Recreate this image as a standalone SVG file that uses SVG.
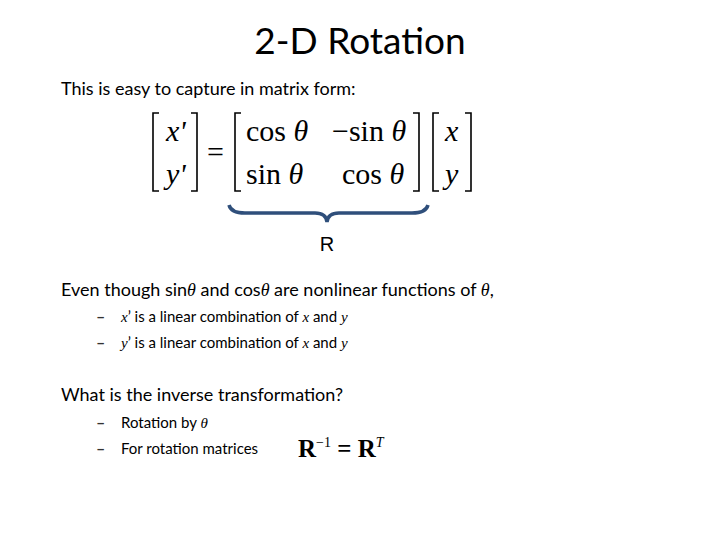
<svg xmlns="http://www.w3.org/2000/svg" width="720" height="540" viewBox="0 0 720 540">
<style>
.s{font-family:Lato,"Open Sans",sans-serif;fill:#000}
.d{font-family:Lato,"Open Sans",sans-serif;font-size:16px;font-weight:bold;fill:#333}
.m{font-family:"Liberation Serif",serif;font-size:30px;fill:#000}
.i{font-family:"Liberation Serif",serif;font-style:italic}
.b{fill:none;stroke:#000;stroke-width:1.6}
</style>
<rect width="720" height="540" fill="#fff"/>
<text class="s" x="360" y="54" font-size="37" text-anchor="middle">2-D Rotation</text>
<text class="s" x="61" y="95" font-size="18">This is easy to capture in matrix form:</text>
<g id="matrix">
<path class="b" d="M159,113 H153 V191 H159 M191,113 H197 V191 H191"/>
<text class="m i" x="166" y="141">x'</text>
<text class="m i" x="166" y="184">y'</text>
<text class="m" x="207" y="162">=</text>
<path class="b" d="M241,113 H235 V191 H241 M413,113 H419 V191 H413"/>
<text class="m" x="246" y="141">cos<tspan class="i"> θ</tspan></text>
<text class="m" x="332" y="141">−sin<tspan class="i"> θ</tspan></text>
<text class="m" x="246" y="184">sin<tspan class="i"> θ</tspan></text>
<text class="m" x="342" y="184">cos<tspan class="i"> θ</tspan></text>
<path class="b" d="M439,113 H433 V191 H439 M465,113 H471 V191 H465"/>
<text class="m i" x="445" y="141">x</text>
<text class="m i" x="445" y="184">y</text>
</g>
<g id="brace">
<path d="M229,205 Q231,213 245,213 H315 Q326,213 327,222 Q328,213 339,213 H412 Q426,213 428,205" fill="none" stroke="#2f4f7b" stroke-width="3.5"/>
<text x="327" y="251" font-family="Liberation Sans,sans-serif" font-size="20" text-anchor="middle">R</text>
</g>
<text class="s" x="61" y="296" font-size="18">Even though sin<tspan class="i">θ</tspan> and cos<tspan class="i">θ</tspan> are nonlinear functions of <tspan class="i">θ</tspan>,</text>
<text class="d" x="96" y="322">–</text>
<text class="s" x="121" y="322" font-size="15"><tspan class="i">x</tspan>’ is a linear combination of <tspan class="i">x</tspan> and <tspan class="i">y</tspan></text>
<text class="d" x="96" y="348">–</text>
<text class="s" x="121" y="348" font-size="15"><tspan class="i">y</tspan>’ is a linear combination of <tspan class="i">x</tspan> and <tspan class="i">y</tspan></text>
<text class="s" x="61" y="401" font-size="18">What is the inverse transformation?</text>
<text class="d" x="96" y="428">–</text>
<text class="s" x="121" y="428" font-size="15">Rotation by <tspan class="i">θ</tspan></text>
<text class="d" x="96" y="454">–</text>
<text class="s" x="121" y="454" font-size="15">For rotation matrices</text>
<text x="298" y="457" font-family="Liberation Serif,serif" font-weight="bold" font-size="25">R<tspan font-weight="normal" font-size="14" dy="-10">−1</tspan><tspan dy="10"> = R</tspan><tspan class="i" font-weight="normal" font-size="14" dy="-10">T</tspan></text>
</svg>
